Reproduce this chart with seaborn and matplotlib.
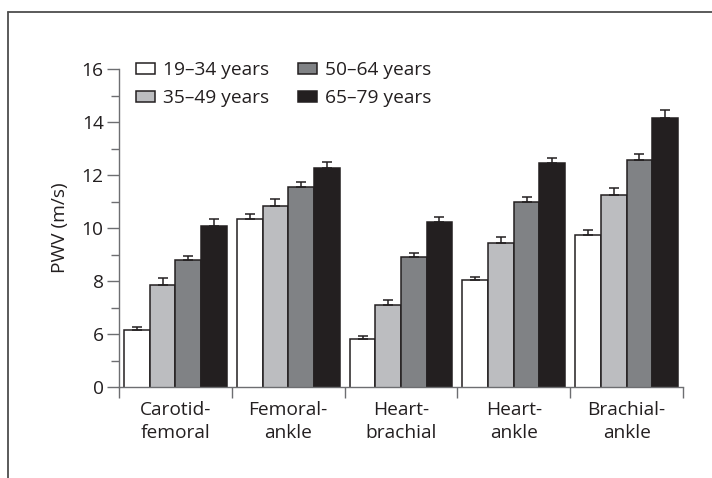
import numpy as np
import pandas as pd
import matplotlib
matplotlib.use("Agg")
import matplotlib.pyplot as plt
import seaborn as sns
from matplotlib.lines import Line2D
from matplotlib.patches import Patch

# PWV by measurement site and age group (bars = mean, whiskers = upper error)
sites = ["Carotid-\nfemoral", "Femoral-\nankle", "Heart-\nbrachial", "Heart-\nankle", "Brachial-\nankle"]
age_groups = ["19\u201334 years", "35\u201349 years", "50\u201364 years", "65\u201379 years"]

pwv_19_34 = [6.15, 10.33, 5.80, 8.03, 9.74]
pwv_35_49 = [7.85, 10.83, 7.09, 9.42, 11.23]
pwv_50_64 = [8.79, 11.56, 8.92, 10.99, 12.57]
pwv_65_79 = [10.09, 12.28, 10.24, 12.44, 14.15]

err_19_34 = [0.12, 0.19, 0.12, 0.12, 0.18]
err_35_49 = [0.25, 0.25, 0.18, 0.23, 0.29]
err_50_64 = [0.16, 0.19, 0.15, 0.18, 0.24]
err_65_79 = [0.24, 0.20, 0.17, 0.19, 0.29]

y_ticks = [4, 6, 8, 10, 12, 14, 16]
y_tick_labels = ["0", "6", "8", "10", "12", "14", "16"]

colors = ["#ffffff", "#bcbdc0", "#808285", "#231f20"]
edge = "#231f20"

values = [pwv_19_34, pwv_35_49, pwv_50_64, pwv_65_79]
errors = [err_19_34, err_35_49, err_50_64, err_65_79]

df = pd.DataFrame({
    "site": sites * len(age_groups),
    "age": [g for g in age_groups for _ in sites],
    "pwv": [v for vals in values for v in vals],
})

sns.set_style("ticks")
plt.rcParams["font.family"] = ["Open Sans", "DejaVu Sans"]
plt.rcParams["font.size"] = 13.8
text_color = "#231f20"

fig = plt.figure(figsize=(7.12, 4.78), dpi=100)
ax = fig.add_axes([119 / 712, 91 / 478, 564 / 712, 318 / 478])

sns.barplot(
    data=df, x="site", y="pwv", hue="age", hue_order=age_groups,
    palette=colors, saturation=1, width=0.91, gap=0,
    edgecolor=edge, linewidth=1.1, errorbar=None, legend=False, ax=ax,
)

# upper error bars only
for container, errs in zip(ax.containers, errors):
    xs = [b.get_x() + b.get_width() / 2 for b in container]
    ys = [b.get_height() for b in container]
    ax.errorbar(xs, ys, yerr=[np.zeros(len(errs)), errs], fmt="none",
                ecolor=edge, elinewidth=1.1, capsize=3.5, capthick=1.1)

# broken y axis: bottom label "0" sits at the break
ax.set_ylim(4, 16)
ax.set_yticks(y_ticks)
ax.set_yticklabels(y_tick_labels)
ax.set_yticks([5, 7, 9, 11, 13, 15], minor=True)
ax.set_xlim(-0.5, len(sites) - 0.5)
ax.set_xticks(np.arange(len(sites)))
ax.set_xticklabels(sites, linespacing=1.35)
ax.set_xticks(np.arange(len(sites) + 1) - 0.5, minor=True)

ax.tick_params(axis="y", which="major", length=9, width=1, color="#6d6e71",
               pad=2, labelcolor=text_color)
ax.tick_params(axis="y", which="minor", length=6, width=1, color="#6d6e71")
ax.tick_params(axis="x", which="major", length=0, pad=10, labelcolor=text_color)
ax.tick_params(axis="x", which="minor", length=8, width=1, color="#6d6e71")

sns.despine(ax=ax)
for side in ["left", "bottom"]:
    ax.spines[side].set_color("#6d6e71")
    ax.spines[side].set_linewidth(1)

ax.set_xlabel("")
ax.set_ylabel("PWV (m/s)", color=text_color, labelpad=9.5)

handles = [Patch(facecolor=c, edgecolor=edge, linewidth=1.1) for c in colors]
ax.legend(handles, age_groups, ncol=2, loc="upper left",
          bbox_to_anchor=(0.03, 1.024), frameon=False, borderaxespad=0,
          borderpad=0, handlelength=1.0, handleheight=0.52,
          handletextpad=0.42, columnspacing=1.5, labelspacing=0.5,
          labelcolor=text_color)

# outer frame (top and left edges only)
frame_color = "#4d4d4d"
fig.add_artist(Line2D([7.5 / 712, 1.0], [1 - 11.5 / 478] * 2,
                      transform=fig.transFigure, color=frame_color, lw=1.3))
fig.add_artist(Line2D([7.5 / 712] * 2, [0.0, 1 - 11.5 / 478],
                      transform=fig.transFigure, color=frame_color, lw=1.3))

fig.savefig("out.png", dpi=100)
